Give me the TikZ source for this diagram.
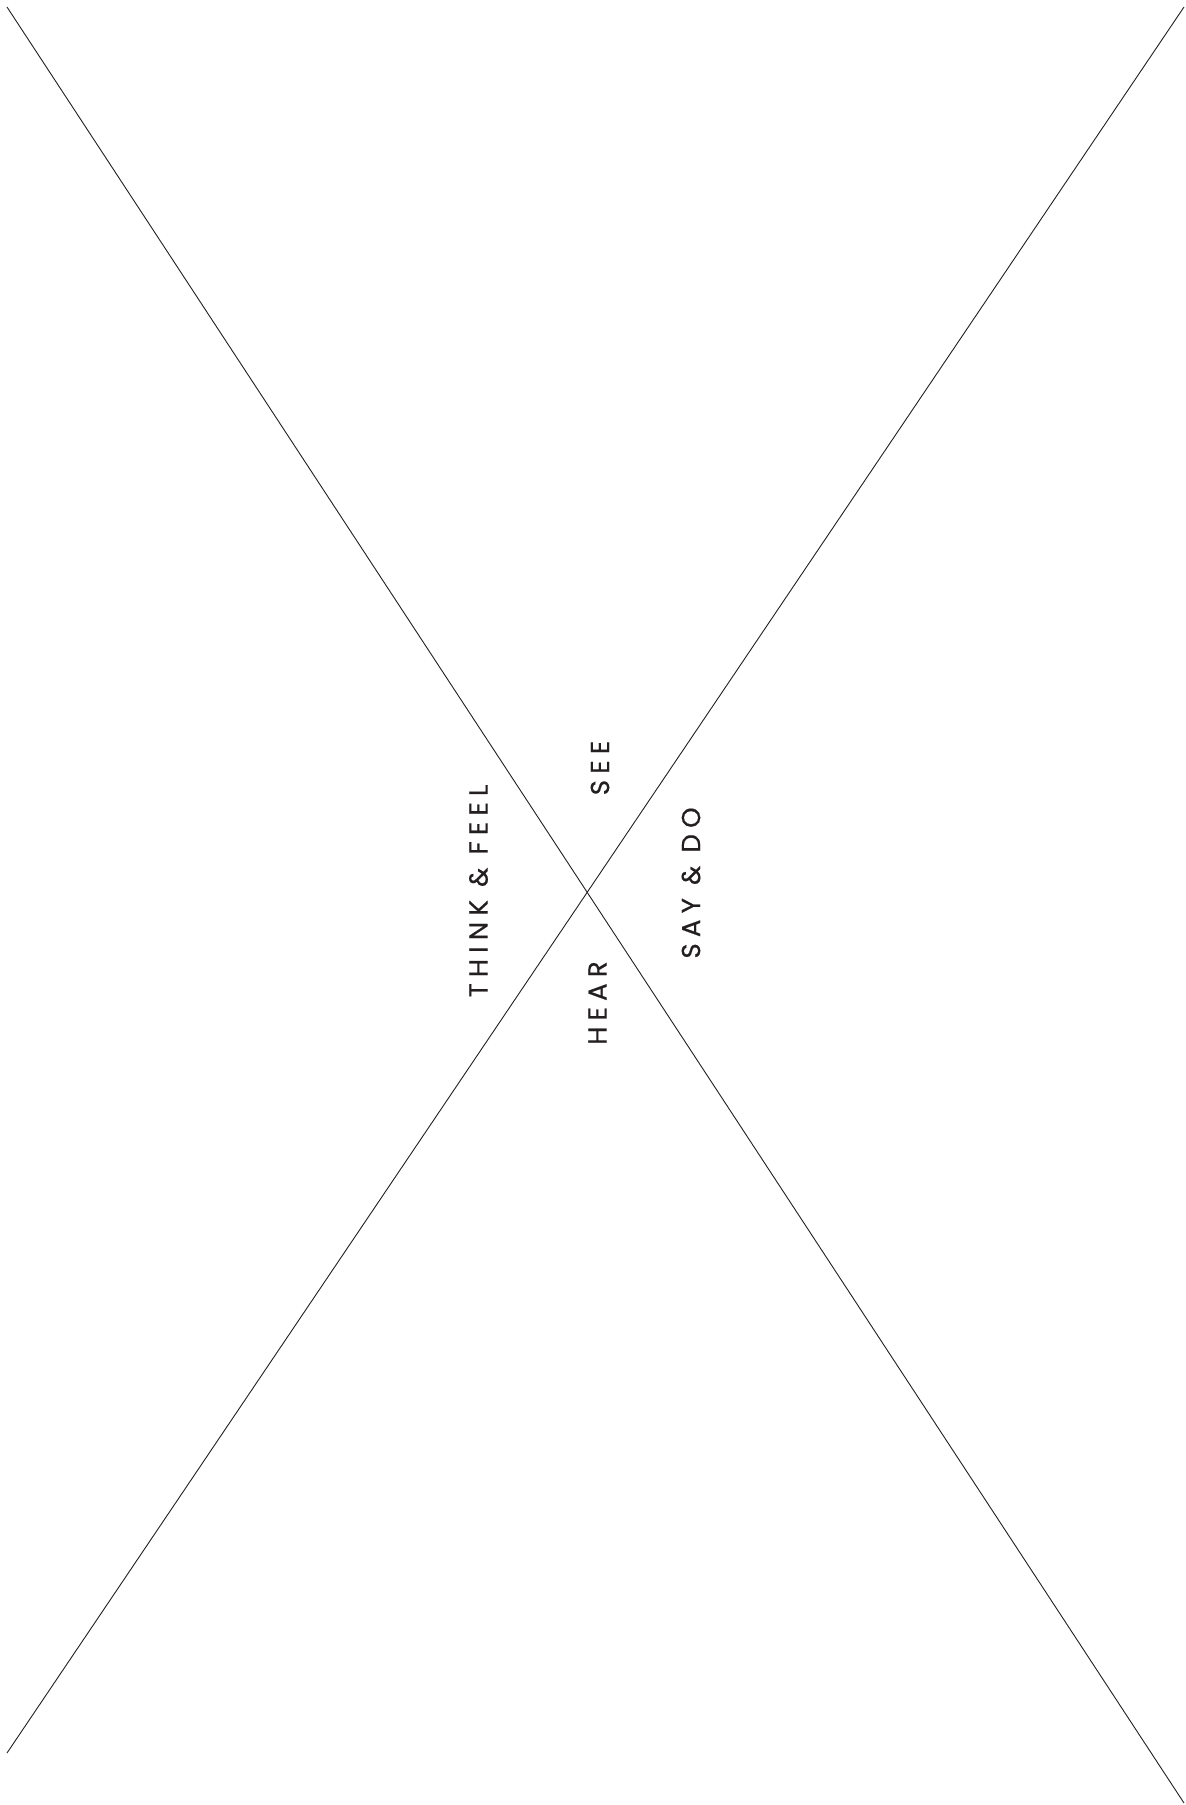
\documentclass[tikz,border=0pt]{standalone}
\usepackage{fontspec}
\newfontfamily\lblfont[LetterSpace=24,FakeBold=0.6]{Poppins}
\definecolor{ink}{HTML}{231F20}
\begin{document}
\begin{tikzpicture}[x=1pt,y=-1pt,
  lbl/.style={rotate=90,inner sep=0pt,text=ink,font=\lblfont\fontsize{26}{26}\selectfont},
  ray/.style={draw=ink,line width=0.9pt}]
\useasboundingbox (0,0) rectangle (1186,1805);
\coordinate (tl) at (7,7);
\coordinate (br) at (1184,1803);
\coordinate (tr) at (1184,7);
\coordinate (bl) at (7,1753);
\draw[ray] (tl) -- (br);
\draw[ray] (tr) -- (bl);
\node[lbl] (think) at (478.5,891) {THINK \& FEEL};
\node[lbl] (see) at (600,768) {SEE};
\node[lbl] (hear) at (597.5,1003) {HEAR};
\node[lbl] (say) at (691,883) {SAY \& DO};
\end{tikzpicture}
\end{document}
